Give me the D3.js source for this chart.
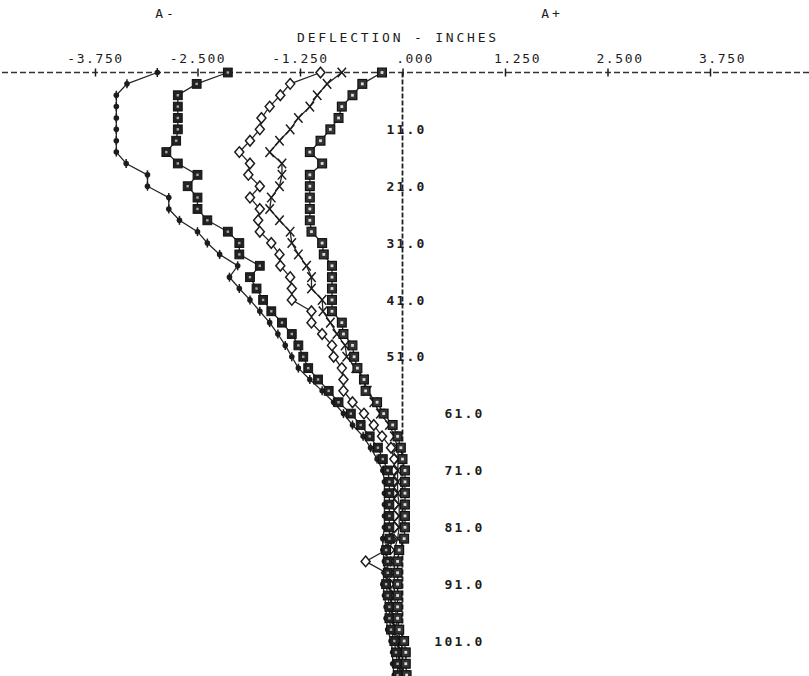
<!DOCTYPE html>
<html>
<head>
<meta charset="utf-8">
<script src="https://cdn.jsdelivr.net/npm/d3@7"></script>
<style>
  html, body { margin: 0; padding: 0; background: #fff; }
  svg { display: block; }
</style>
</head>
<body>
<svg id="chart" width="809" height="676"></svg>
<script>
// reading depths (ft), every 2 ft
const depths = [1, 3, 5, 7, 9, 11, 13, 15, 17, 19, 21, 23, 25, 27, 29, 31, 33, 35, 37, 39,
  41, 43, 45, 47, 49, 51, 53, 55, 57, 59, 61, 63, 65, 67, 69, 71, 73, 75, 77, 79,
  81, 83, 85, 87, 89, 91, 93, 95, 97, 99, 101, 103, 105, 107];

// deflection (inches) per reading set, same order as depths
const setDots = [-2.99, -3.36, -3.49, -3.49, -3.49, -3.49, -3.49, -3.49, -3.37, -3.11,
  -3.11, -2.85, -2.85, -2.72, -2.50, -2.38, -2.23, -2.01, -2.11, -1.99,
  -1.86, -1.74, -1.62, -1.52, -1.43, -1.35, -1.27, -1.13, -0.98, -0.84,
  -0.72, -0.61, -0.48, -0.39, -0.31, -0.24, -0.22, -0.22, -0.22, -0.22,
  -0.22, -0.24, -0.24, -0.22, -0.22, -0.24, -0.22, -0.20, -0.20, -0.18,
  -0.14, -0.12, -0.12, -0.10];
const setSolidSquares = [-2.13, -2.51, -2.74, -2.74, -2.74, -2.74, -2.76, -2.88, -2.74, -2.50,
  -2.62, -2.50, -2.50, -2.38, -2.13, -1.99, -1.99, -1.74, -1.86, -1.78,
  -1.70, -1.60, -1.47, -1.35, -1.27, -1.21, -1.15, -1.03, -0.90, -0.78,
  -0.63, -0.51, -0.40, -0.30, -0.24, -0.18, -0.16, -0.16, -0.16, -0.16,
  -0.16, -0.16, -0.20, -0.18, -0.18, -0.20, -0.18, -0.16, -0.16, -0.14,
  -0.10, -0.08, -0.06, -0.06];
const setDiamonds = [-1.00, -1.37, -1.49, -1.62, -1.72, -1.74, -1.86, -1.99, -1.86, -1.88,
  -1.74, -1.86, -1.74, -1.76, -1.74, -1.60, -1.50, -1.49, -1.37, -1.35,
  -1.35, -1.11, -1.11, -0.98, -0.86, -0.84, -0.74, -0.72, -0.72, -0.61,
  -0.47, -0.35, -0.25, -0.14, -0.10, -0.10, -0.10, -0.10, -0.10, -0.10,
  -0.10, -0.14, -0.20, -0.45, -0.20, -0.16, -0.14, -0.14, -0.12, -0.10,
  -0.06, -0.04, -0.04, -0.02];
const setCrosses = [-0.74, -0.92, -1.04, -1.13, -1.27, -1.37, -1.50, -1.62, -1.47, -1.47,
  -1.50, -1.60, -1.62, -1.50, -1.37, -1.35, -1.27, -1.17, -1.11, -1.11,
  -0.98, -0.97, -0.88, -0.80, -0.70, -0.68, -0.57, -0.47, -0.43, -0.35,
  -0.27, -0.16, -0.10, -0.06, -0.05, -0.06, -0.06, -0.06, -0.04, -0.04,
  -0.04, -0.06, -0.10, -0.10, -0.10, -0.10, -0.10, -0.08, -0.08, -0.06,
  -0.02, 0.00, 0.00, 0.02];
const setSquares = [-0.25, -0.49, -0.61, -0.74, -0.78, -0.88, -1.00, -1.13, -0.98, -1.13,
  -1.13, -1.13, -1.13, -1.13, -1.11, -0.98, -0.96, -0.86, -0.86, -0.86,
  -0.86, -0.86, -0.74, -0.72, -0.61, -0.59, -0.55, -0.47, -0.45, -0.31,
  -0.23, -0.12, -0.06, -0.02, 0.00, 0.03, 0.03, 0.03, 0.03, 0.03,
  0.03, 0.02, -0.04, -0.06, -0.06, -0.06, -0.06, -0.06, -0.06, -0.04,
  0.02, 0.04, 0.04, 0.05];

const xTicks = [-3.75, -2.5, -1.25, 0, 1.25, 2.5, 3.75];
const xTickLabels = ["-3.750", "-2.500", "-1.250", ".000", "1.250", "2.500", "3.750"];
const depthTicks = [11, 21, 31, 41, 51, 61, 71, 81, 91, 101];
const depthTickLabels = ["11.0", "21.0", "31.0", "41.0", "51.0", "61.0", "71.0", "81.0", "91.0", "101.0"];

const W = 809, H = 676;
const INK = "#1c1c1c";
const FONT = "DejaVu Sans Mono, monospace";

const svg = d3.select("#chart");
svg.append("rect").attr("width", W).attr("height", H).attr("fill", "#fff");

const x = d3.scaleLinear().domain([-3.75, 3.75]).range([95, 710]);
const y = d3.scaleLinear().domain([1, 101]).range([72.5, 641]);
const x0 = x(0), yTop = y(1);

// header text
const header = svg.append("g")
  .attr("font-family", FONT)
  .attr("font-size", 13)
  .attr("fill", INK)
  .attr("letter-spacing", 2.8);
header.append("text").attr("x", 166).attr("y", 18).attr("text-anchor", "middle").text("A-");
header.append("text").attr("x", 552).attr("y", 18).attr("text-anchor", "middle").text("A+");
header.append("text").attr("x", 398).attr("y", 42).attr("text-anchor", "middle").text("DEFLECTION - INCHES");

// dashed reference lines
svg.append("line")
  .attr("x1", 2).attr("x2", W).attr("y1", yTop).attr("y2", yTop)
  .attr("stroke", "#333").attr("stroke-width", 1.3).attr("stroke-dasharray", "6,3");
svg.append("line")
  .attr("x1", x0).attr("x2", x0).attr("y1", yTop).attr("y2", H)
  .attr("stroke", "#222").attr("stroke-width", 1.8).attr("stroke-dasharray", "5,2");

// deflection axis along the top
const gx = svg.append("g")
  .attr("transform", `translate(0,${yTop})`)
  .call(d3.axisTop(x).tickValues(xTicks).tickFormat((d, i) => xTickLabels[i]).tickSize(0).tickPadding(10));
gx.select(".domain").remove();
gx.attr("font-family", FONT).attr("font-size", 13).attr("color", INK);
gx.selectAll(".tick text")
  .attr("text-anchor", "middle")
  .attr("x", (d) => d < 0 ? 0 : 12)
  .attr("letter-spacing", 1.6);
gx.selectAll(".tick").append("line")
  .attr("y1", -4).attr("y2", 4)
  .attr("stroke", INK).attr("stroke-width", 1.5);

// depth labels on the zero line
const gy = svg.append("g")
  .attr("transform", `translate(${x0},0)`)
  .call(d3.axisRight(y).tickValues(depthTicks).tickFormat((d, i) => depthTickLabels[i]).tickSize(0));
gy.select(".domain").remove();
gy.attr("font-family", FONT).attr("font-size", 13).attr("color", INK).attr("font-weight", "bold");
gy.selectAll(".tick text")
  .attr("text-anchor", "end")
  .attr("x", (d) => d <= 51 ? 24 : 82)
  .attr("letter-spacing", 2.2);

// reading sets
const readingSets = [
  { name: "dots", values: setDots },
  { name: "diamond", values: setDiamonds },
  { name: "cross", values: setCrosses },
  { name: "solidSquare", values: setSolidSquares },
  { name: "square", values: setSquares }
];

const line = d3.line()
  .x((p) => x(p.v))
  .y((p) => y(p.depth));

const plot = svg.append("g");

readingSets.forEach((set) => {
  const pts = depths.map((depth, i) => ({ depth, v: set.values[i] }));
  plot.append("path")
    .datum(pts)
    .attr("d", line)
    .attr("fill", "none")
    .attr("stroke", "#262626")
    .attr("stroke-width", 1.3);
  set.pts = pts;
});

const drawMarker = (g, type) => {
  if (type === "dots") {
    g.append("line").attr("y1", -4.5).attr("y2", 4.5).attr("stroke", INK).attr("stroke-width", 1.5);
    g.append("circle").attr("r", 2.8).attr("fill", INK);
  } else if (type === "diamond") {
    g.append("path").attr("d", "M0,-5.3L4.5,0L0,5.3L-4.5,0Z")
      .attr("fill", "#fff").attr("stroke", INK).attr("stroke-width", 1.5);
  } else if (type === "cross") {
    g.append("path").attr("d", "M-4.2,-4.8L4.2,4.8M4.2,-4.8L-4.2,4.8")
      .attr("stroke", INK).attr("stroke-width", 1.5);
  } else if (type === "solidSquare") {
    g.append("rect").attr("x", -4.4).attr("y", -4.4).attr("width", 8.8).attr("height", 8.8)
      .attr("fill", "#222").attr("stroke", "#111").attr("stroke-width", 1);
    g.append("rect").attr("x", -1.2).attr("y", -1.2).attr("width", 2.4).attr("height", 2.4).attr("fill", "#aaa");
  } else {
    g.append("rect").attr("x", -4.4).attr("y", -4.4).attr("width", 8.8).attr("height", 8.8)
      .attr("fill", "#333").attr("stroke", "#111").attr("stroke-width", 1.2);
    g.append("rect").attr("x", -1.4).attr("y", -1.4).attr("width", 2.8).attr("height", 2.8).attr("fill", "#ddd");
  }
};

readingSets.forEach((set) => {
  plot.append("g").selectAll("g")
    .data(set.pts)
    .join("g")
    .attr("transform", (p) => `translate(${x(p.v)},${y(p.depth)})`)
    .each(function () { drawMarker(d3.select(this), set.name); });
});
</script>
</body>
</html>
